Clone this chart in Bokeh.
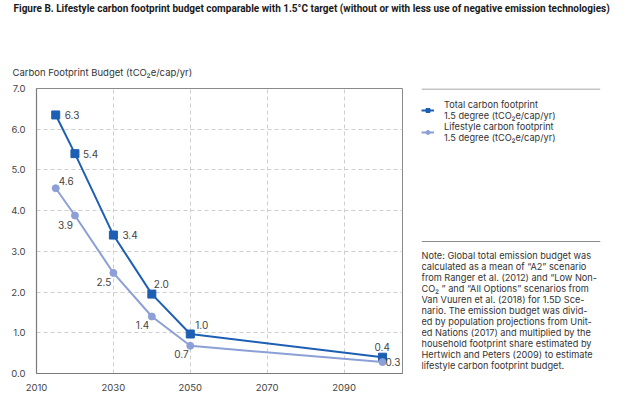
import numpy as np
from bokeh.plotting import figure
from bokeh.layouts import column, row
from bokeh.models import (ColumnDataSource, Label, Legend, LegendItem, Span,
                          Range1d, FixedTicker, LabelSet)
from bokeh.embed import file_html
from bokeh.resources import INLINE
from bokeh.core.properties import value

# ---- data ----
years = [2015, 2020, 2030, 2040, 2050, 2100]
total = [6.35, 5.4, 3.4, 1.95, 0.97, 0.4]
total_labels = ["6.3", "5.4", "3.4", "2.0", "1.0", "0.4"]
lifestyle = [4.55, 3.88, 2.47, 1.4, 0.68, 0.28]
lifestyle_labels = ["4.6", "3.9", "2.5", "1.4", "0.7", "0.3"]
x_ticks = [2010, 2030, 2050, 2070, 2090]
y_ticks = [0, 1, 2, 3, 4, 5, 6, 7]
y_tick_labels = ["0.0", "1.0", "2.0", "3.0", "4.0", "5.0", "6.0", "7.0"]

title_text = ("Figure B. Lifestyle carbon footprint budget comparable with 1.5\u00b0C target "
              "(without or with less use of negative emission technologies)")
y_title = "Carbon Footprint Budget (tCO\u2082e/cap/yr)"
legend_total = "Total carbon footprint\n1.5 degree (tCO\u2082e/cap/yr)"
legend_life = "Lifestyle carbon footprint\n1.5 degree (tCO\u2082e/cap/yr)"
note_text = ("Note: Global total emission budget was\n"
             "calculated as a mean of \u201cA2\u201d scenario\n"
             "from Ranger et al. (2012) and \u201cLow Non-\n"
             "CO\u2082 \u201d and \u201cAll Options\u201d scenarios from\n"
             "Van Vuuren et al. (2018) for 1.5D Sce-\n"
             "nario. The emission budget was divid-\n"
             "ed by population projections from Unit-\n"
             "ed Nations (2017) and multiplied by the\n"
             "household footprint share estimated by\n"
             "Hertwich and Peters (2009) to estimate\n"
             "lifestyle carbon footprint budget.")

# ---- styling ----
C_TOTAL = "#1c5fb3"
C_LIFE = "#8c9fd6"
FONT = "Inter"
TXT = "#333333"
W, H = 624, 395
HEAD_H = 80
MAIN_W = 413
TOP_B, BOT_B = 8, 22               # borders of the chart row figures
FRAME_TOP, FRAME_BOT = HEAD_H + TOP_B, H - BOT_B

# label placement (screen px offsets from each point)
total_dx = [9, 8, 9, 2, 5, -8]
total_dy = [0, 0, 0, 10, 9, 10]
life_dx = [3, -17, -17, -16, -16, 3]
life_dy = [7, -9, -9, -8, -8, 0]


def bare(fig):
    fig.outline_line_color = None
    fig.background_fill_color = "white"
    fig.border_fill_color = "white"
    fig.xgrid.visible = False
    fig.ygrid.visible = False
    return fig


# ---- header (title + y-axis title) ----
head = bare(figure(width=W, height=HEAD_H, output_backend="svg", toolbar_location=None,
                   x_range=Range1d(0, W), y_range=Range1d(HEAD_H, 0),
                   x_axis_type=None, y_axis_type=None, min_border=0))
head.add_layout(Label(x=13, y=2, text=title_text,
                      text_font="Roboto", text_font_style="bold", text_font_size="10px",
                      text_color="#1a1a1a", text_baseline="top", text_align="left"))
head.add_layout(Label(x=12, y=72, text=y_title,
                      text_font=FONT, text_font_size="9.5px",
                      text_color=TXT, text_baseline="middle", text_align="left"))

# ---- main chart ----
p = figure(width=MAIN_W, height=H - HEAD_H, output_backend="svg", toolbar_location=None,
           x_range=Range1d(2010, 2105.2), y_range=Range1d(0, 7.0),
           min_border_left=36, min_border_right=11, min_border_top=TOP_B, min_border_bottom=BOT_B)
p.background_fill_color = "white"
p.border_fill_color = "white"
p.outline_line_color = "#8a8a8a"
p.outline_line_width = 1

p.xaxis.ticker = FixedTicker(ticks=x_ticks)
p.yaxis.ticker = FixedTicker(ticks=y_ticks)
p.yaxis.major_label_overrides = {t: l for t, l in zip(y_ticks, y_tick_labels)}
for ax in (p.xaxis, p.yaxis):
    ax.axis_line_color = "#7a7a7a"
    ax.axis_line_width = 1.2
    ax.major_tick_line_color = None
    ax.minor_tick_line_color = None
    ax.major_tick_out = 0
    ax.major_tick_in = 0
    ax.major_label_text_font = FONT
    ax.major_label_text_font_size = "9.5px"
    ax.major_label_text_color = "#444444"
p.yaxis.major_label_standoff = 11
p.xaxis.major_label_standoff = 10

p.xgrid.ticker = FixedTicker(ticks=x_ticks)
p.ygrid.ticker = FixedTicker(ticks=y_ticks)
for g in (p.xgrid, p.ygrid):
    g.grid_line_color = "#cfcfcf"
    g.grid_line_dash = "4 3"
    g.grid_line_width = 1

src_t = ColumnDataSource(dict(x=years, y=total, lab=total_labels, dx=total_dx, dy=total_dy))
src_l = ColumnDataSource(dict(x=years, y=lifestyle, lab=lifestyle_labels, dx=life_dx, dy=life_dy))

line_t = dict(line_color=C_TOTAL, line_width=2)
mark_t = dict(marker="square", size=8, fill_color=C_TOTAL, line_color=C_TOTAL)
line_l = dict(line_color=C_LIFE, line_width=2)
mark_l = dict(marker="circle", size=7, fill_color=C_LIFE, line_color=C_LIFE)

p.line("x", "y", source=src_t, **line_t)
p.scatter("x", "y", source=src_t, **mark_t)
p.line("x", "y", source=src_l, **line_l)
p.scatter("x", "y", source=src_l, **mark_l)

for src in (src_t, src_l):
    p.add_layout(LabelSet(x="x", y="y", text="lab", source=src, x_offset="dx", y_offset="dy",
                          text_font=value(FONT), text_font_size="10px", text_color="#444444",
                          text_align="left", text_baseline="middle"))

# ---- side panel (legend + note); its frame is aligned with the chart frame ----
SIDE_W = W - MAIN_W
side = bare(figure(width=SIDE_W, height=H - HEAD_H, output_backend="svg", toolbar_location=None,
                   x_range=Range1d(0, 179), y_range=Range1d(FRAME_BOT, FRAME_TOP),
                   x_axis_type=None, y_axis_type=None,
                   min_border_left=8, min_border_right=SIDE_W - 8 - 179,
                   min_border_top=TOP_B, min_border_bottom=BOT_B))
# key-only renderers (a single undefined point, so nothing is drawn in the panel)
key_src = ColumnDataSource(dict(x=np.array([np.nan]), y=np.array([np.nan])))
k_lt = side.line("x", "y", source=key_src, **line_t)
k_st = side.scatter("x", "y", source=key_src, **mark_t)
k_ll = side.line("x", "y", source=key_src, **line_l)
k_sl = side.scatter("x", "y", source=key_src, **mark_l)

legend = Legend(items=[LegendItem(label=legend_total, renderers=[k_lt, k_st]),
                       LegendItem(label=legend_life, renderers=[k_ll, k_sl])],
                location=(0, 230), orientation="vertical",
                border_line_color=None, background_fill_alpha=0,
                padding=0, margin=0, spacing=0,
                glyph_width=13, glyph_height=10, label_standoff=10,
                label_text_font=FONT, label_text_font_size="9.2px",
                label_text_color=TXT, label_height=10, label_text_line_height=1.02)
side.add_layout(legend, "center")

side.add_layout(Span(location=FRAME_TOP + 0.5, dimension="width", line_color="#8a8a8a", line_width=1))
side.add_layout(Span(location=241, dimension="width", line_color="#8a8a8a", line_width=1))

side.add_layout(Label(x=0, y=249.5, text=note_text,
                      text_font=FONT, text_font_size="9.2px", text_line_height=1.0,
                      text_color=TXT, text_baseline="top", text_align="left"))

layout = column(head, row(p, side, spacing=0), spacing=0)
open("out.html", "w").write(file_html(layout, INLINE))
